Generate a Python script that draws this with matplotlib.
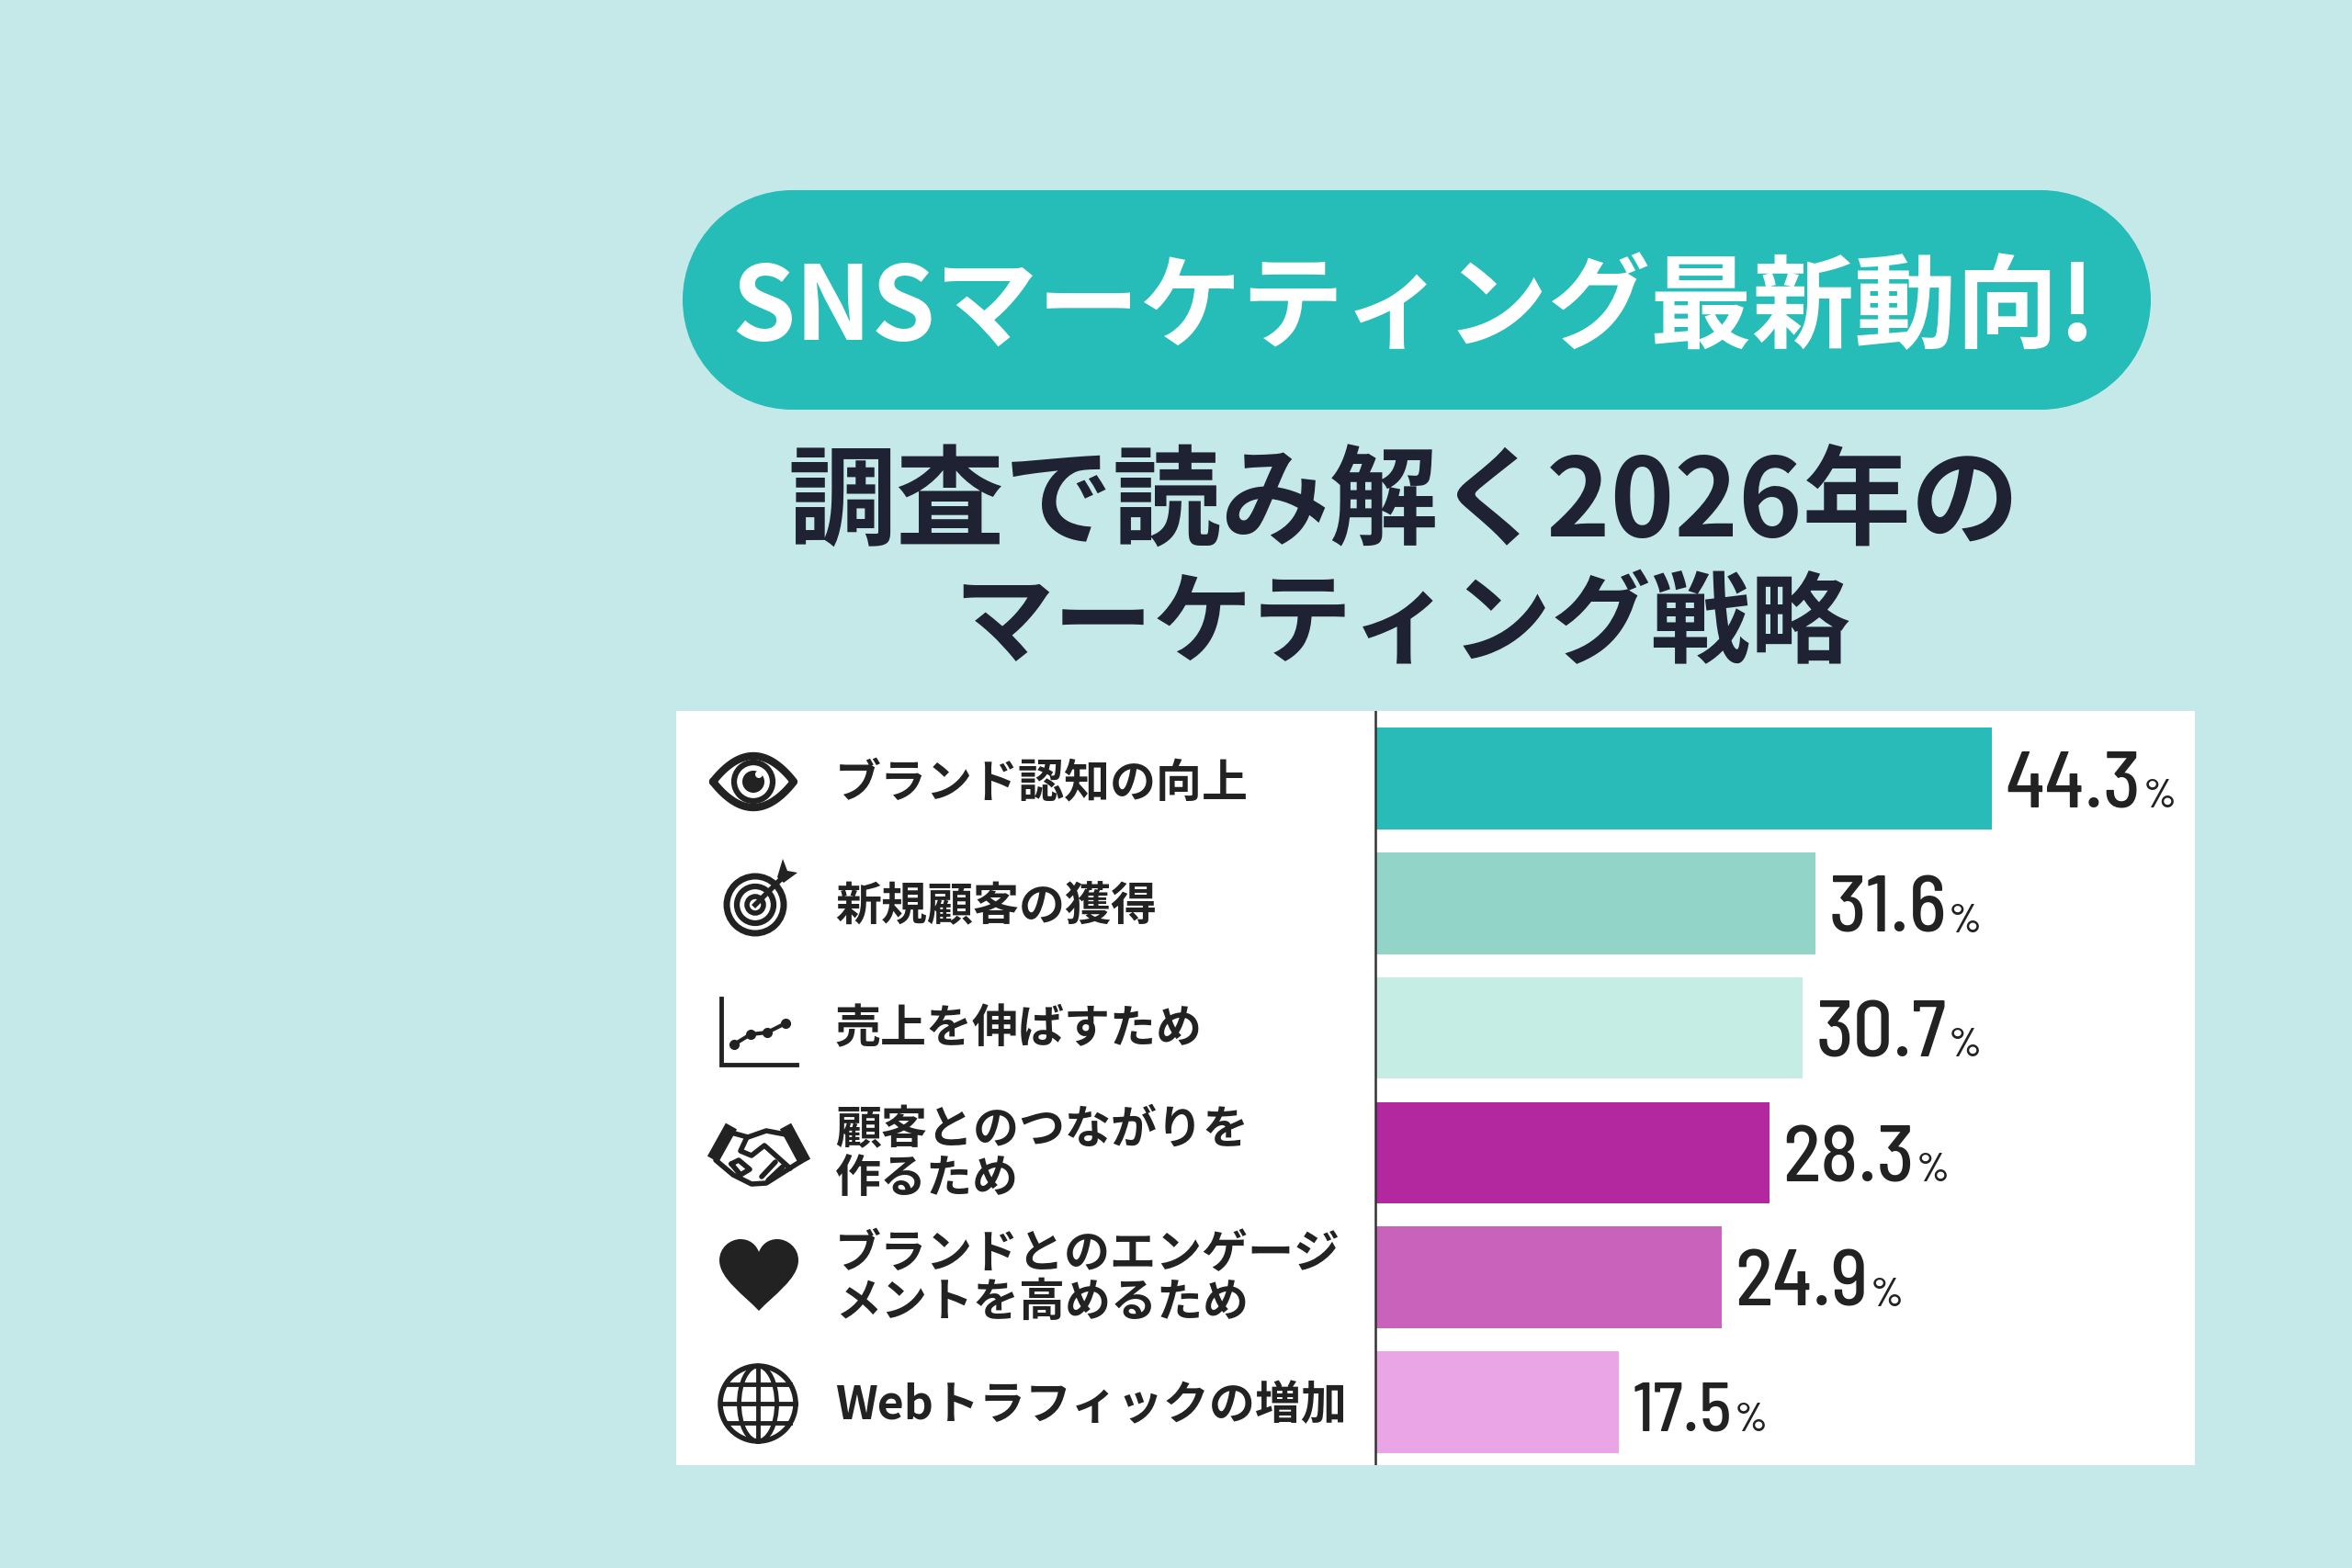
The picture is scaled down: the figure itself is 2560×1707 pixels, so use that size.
# plot.py - SNS marketing survey bar chart
import numpy as np
import matplotlib
matplotlib.use("Agg")
import matplotlib.pyplot as plt
from matplotlib.patches import Circle, Ellipse, PathPatch, Rectangle
from matplotlib.path import Path

W, H = 2560, 1707

pill_title = "SNSマーケティング最新動向!"
sub_lines = ["調査で読み解く2026年の", "マーケティング戦略"]

categories = [
    "ブランド認知の向上",
    "新規顧客の獲得",
    "売上を伸ばすため",
    "顧客とのつながりを\n作るため",
    "ブランドとのエンゲージ\nメントを高めるため",
    "Webトラフィックの増加",
]
values = [44.3, 31.6, 30.7, 28.3, 24.9, 17.5]
bar_colors = ["#29BBB8", "#92D5C8", "#C6EDE3", "#B3289E", "#C962BB", "#E9A5E5"]

BG = "#C5E9E8"
TEAL = "#26BCB8"
DARK = "#1F2233"
INK = "#222222"
JP = ["Noto Sans CJK JP", "DejaVu Sans"]
NUM = ["Barlow Semi Condensed", "Abel", "Liberation Sans", "DejaVu Sans"]

plt.rcParams["font.family"] = JP

fig = plt.figure(figsize=(W / 100, H / 100), dpi=100, facecolor=BG)

# panel axes: x=0 sits on the vertical rule, one row per bar
px_per_unit = 15.15
left_px, right_px, top_px, bottom_px = 736, 2389, 774, 1595
zero_px = 1497
row_px = 135.8
first_center = 847.5

ax = fig.add_axes([left_px / W, 1 - bottom_px / H, (right_px - left_px) / W, (bottom_px - top_px) / H])
ax.set_facecolor("white")
ax.set_xlim((left_px - zero_px) / px_per_unit, (right_px - zero_px) / px_per_unit)
ax.set_ylim((bottom_px - first_center) / row_px, (top_px - first_center) / row_px)
ax.set_xticks([])
ax.set_yticks([])
for s in ax.spines.values():
    s.set_visible(False)

rows = np.arange(len(values))
ax.barh(rows, values, height=0.815, color=bar_colors, linewidth=0)
ax.axvline(0, color="#333333", lw=1.8)

# number labels, with the small % set right after each number
num_sizes = [62, 62, 62, 62, 62, 54]
renderer = fig.canvas.get_renderer()
for i, v in enumerate(values):
    t = ax.text(v + 0.95, i + 0.23, f"{v:.1f}", fontsize=num_sizes[i], family=NUM,
                fontweight="medium", color=INK, ha="left", va="baseline")
    end_px = t.get_window_extent(renderer).x1
    end_x = ax.transData.inverted().transform((end_px, 0))[0]
    ax.text(end_x + 0.15, i + 0.23, "%", fontsize=32, family=NUM, fontweight="medium",
            color=INK, ha="left", va="baseline")

# overlay in pixel coordinates for title, labels and icons
ov = fig.add_axes([0, 0, 1, 1])
ov.set_xlim(0, W)
ov.set_ylim(H, 0)
ov.axis("off")
ov.patch.set_alpha(0)

# pill = rectangle with two full circle ends
pill_x0, pill_x1, pill_y0, pill_y1 = 743, 2341, 207, 446
pill_r = (pill_y1 - pill_y0) / 2
ov.add_patch(Rectangle((pill_x0 + pill_r, pill_y0), pill_x1 - pill_x0 - 2 * pill_r, 2 * pill_r, fc=TEAL, ec="none"))
ov.add_patch(Circle((pill_x0 + pill_r, pill_y0 + pill_r), pill_r, fc=TEAL, ec="none"))
ov.add_patch(Circle((pill_x1 - pill_r, pill_y0 + pill_r), pill_r, fc=TEAL, ec="none"))

ov.text(1539, 338, pill_title, fontsize=80, color="white", ha="center", va="center", fontweight="bold")
ov.text(1528, 549, sub_lines[0], fontsize=85, color=DARK, ha="center", va="center", fontweight="bold")
ov.text(1526, 682, sub_lines[1], fontsize=78, color=DARK, ha="center", va="center", fontweight="bold")

label_y = [854, 988, 1121, 1257, 1392, 1531]
for lab, y in zip(categories, label_y):
    ov.text(909, y, lab, fontsize=36, color=INK, ha="left", va="center",
            fontweight="bold", linespacing=1.05)


def eye(cx, cy):
    t = np.linspace(-1, 1, 60)
    upper = np.column_stack([cx + 44 * t, cy - 28 * (1 - t ** 2)])
    lower = np.column_stack([cx + 44 * t[::-1], cy + 28 * (1 - t[::-1] ** 2)])
    pts = np.vstack([upper, lower, upper[:1]])
    ov.plot(pts[:, 0], pts[:, 1], color=INK, lw=6, solid_capstyle="round")
    ov.add_patch(Circle((cx, cy), 21, fc="none", ec=INK, lw=4.5))
    ov.add_patch(Circle((cx, cy), 12, fc=INK, ec="none"))
    ov.add_patch(Circle((cx + 6, cy - 8), 4, fc="white", ec="none"))


def target(cx, cy):
    for r, lw in [(31, 5), (20, 4.5), (9, 4)]:
        ov.add_patch(Circle((cx, cy), r, fc="none", ec=INK, lw=lw))
    ov.plot([cx, cx + 33], [cy, cy - 33], color=INK, lw=4)
    ov.add_patch(PathPatch(Path([(cx + 24, cy - 30), (cx + 30, cy - 50), (cx + 35, cy - 37),
                                 (cx + 46, cy - 35), (cx + 31, cy - 24), (cx + 24, cy - 30)]),
                           fc=INK, ec="none"))


def line_chart(x0, y0, x1, y1):
    ov.plot([x0, x0, x1], [y0, y1, y1], color=INK, lw=3.5, solid_joinstyle="miter")
    xs = x0 + np.array([14, 32, 50, 70])
    ys = y1 - np.array([22, 33, 35, 45])
    ov.plot(xs, ys, color=INK, lw=3, marker="o", ms=7)


def handshake(cx, cy):
    thick = [[(-50, 5), (-30, -31)], [(29, -31), (50, 8)]]
    for seg in thick:
        a = np.array(seg) + (cx, cy)
        ov.plot(a[:, 0], a[:, 1], color=INK, lw=10, solid_capstyle="butt")
    thin = [
        [(-30, -24), (-12, -19), (8, -26), (29, -22)],
        [(-47, 6), (-28, 22), (-8, 32), (8, 31), (46, 7)],
        [(-13, -19), (-20, -4), (-8, 1), (6, -10), (34, 15)],
        [(18, 8), (3, 24)],
        [(26, 13), (10, 28)],
        [(-30, 10), (-20, 22), (-10, 16), (-22, 6), (-30, 10)],
    ]
    for seg in thin:
        a = np.array(seg) + (cx, cy)
        ov.plot(a[:, 0], a[:, 1], color=INK, lw=4, solid_joinstyle="round", solid_capstyle="round")


def heart(cx, cy):
    verts = [(0, 39), (-16, 22), (-43, 4), (-43, -16), (-43, -30), (-31, -39), (-20, -39),
             (-10, -39), (-3, -33), (0, -25), (3, -33), (10, -39), (20, -39),
             (31, -39), (43, -30), (43, -16), (43, 4), (16, 22), (0, 39)]
    codes = [Path.MOVETO] + [Path.CURVE4] * 18
    ov.add_patch(PathPatch(Path(np.array(verts, float) + (cx, cy), codes), fc=INK, ec="none"))


def globe(cx, cy):
    r = 41
    ov.add_patch(Circle((cx, cy), r, fc="none", ec=INK, lw=4))
    ov.add_patch(Ellipse((cx, cy), r, 2 * r, fc="none", ec=INK, lw=3.5))
    ov.plot([cx, cx], [cy - r, cy + r], color=INK, lw=3.5)
    for dy in [-21, 0, 21]:
        half = np.sqrt(r ** 2 - dy ** 2)
        ov.plot([cx - half, cx + half], [cy + dy, cy + dy], color=INK, lw=3.5)


eye(820, 851)
target(822, 985)
line_chart(785, 1087, 867, 1159)
handshake(826, 1257)
heart(826, 1388)
globe(825, 1528)

fig.savefig("out.png", dpi=100, facecolor=BG)
